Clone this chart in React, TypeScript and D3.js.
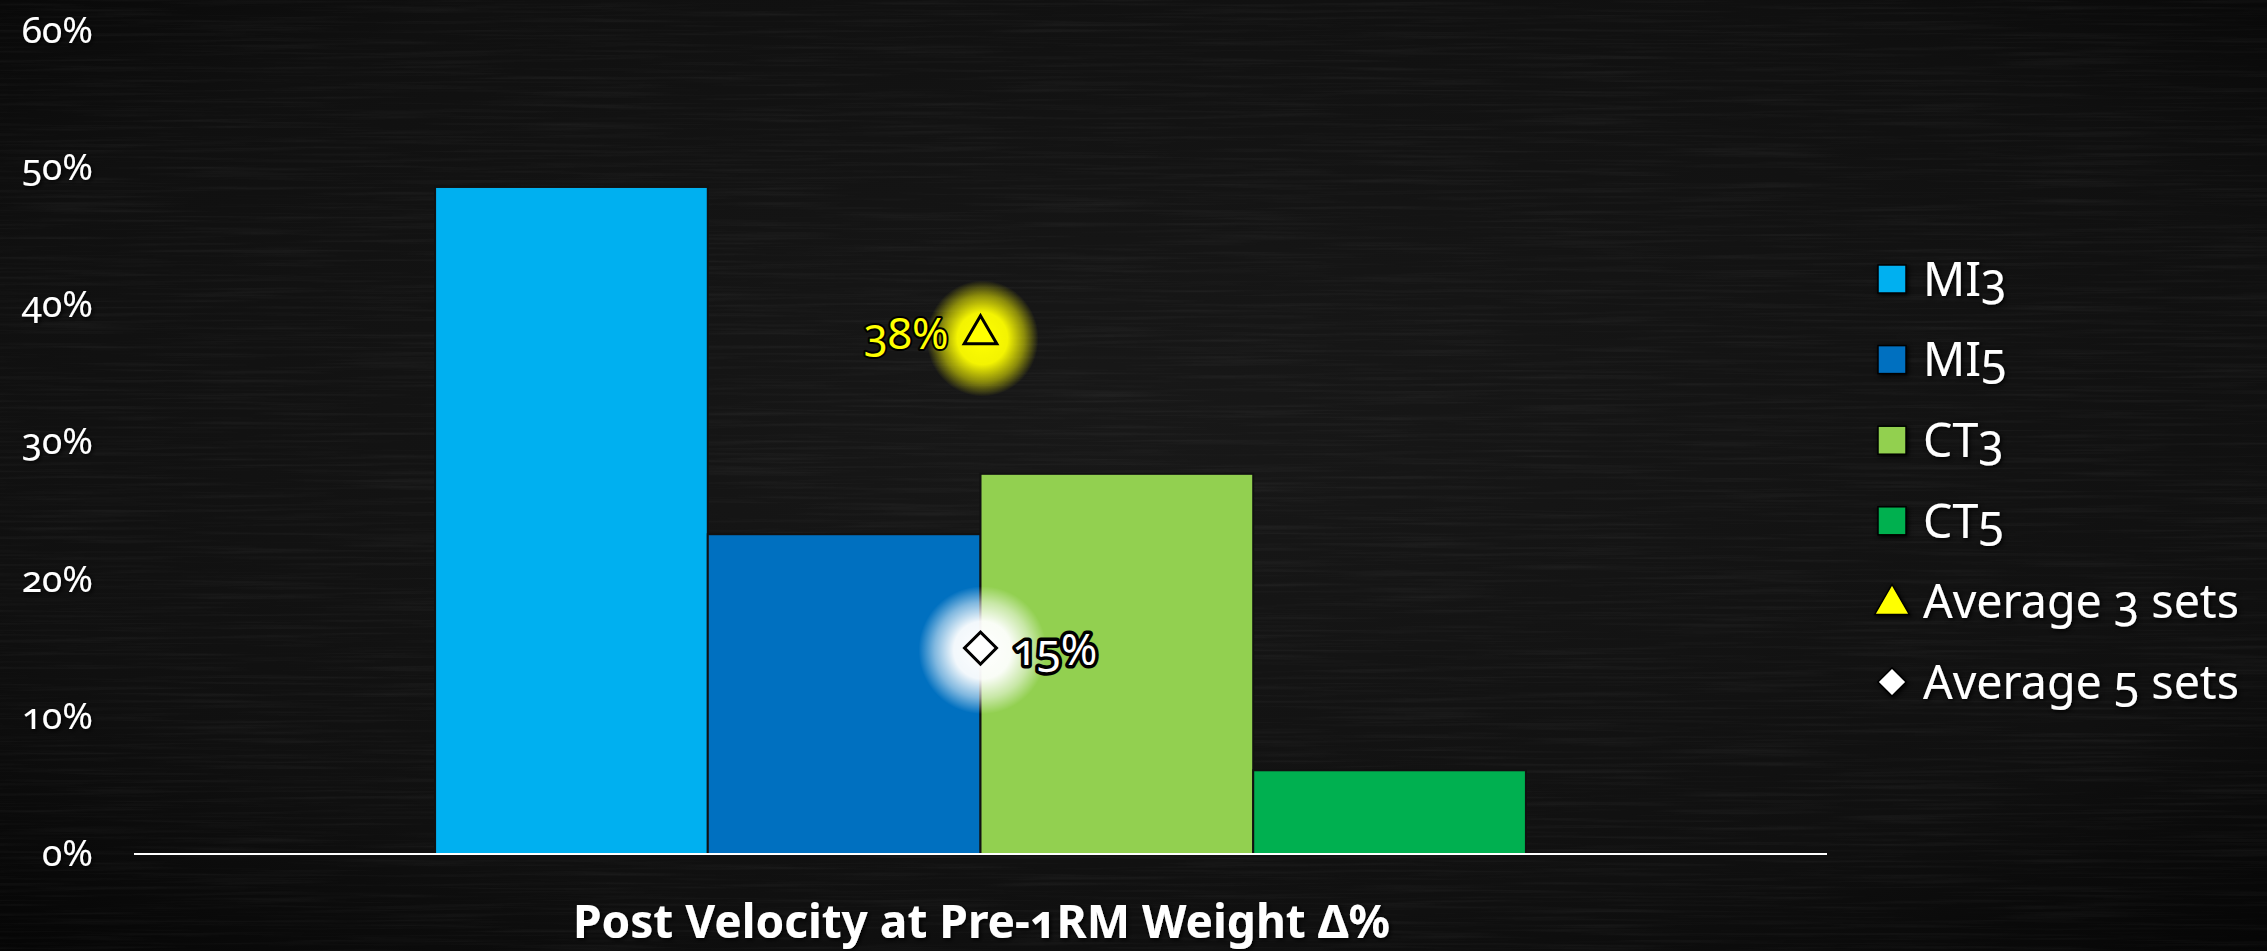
import React from "react";
import * as d3 from "d3";

const W = 2267;
const H = 951;

const categories = ["Post Velocity at Pre-1RM Weight Δ%"];
const seriesNames = ["MI3", "MI5", "CT3", "CT5"];
const seriesValues = [0.486, 0.233, 0.277, 0.061];
const seriesColors = ["#00B0F0", "#0070C0", "#92D050", "#00B050"];
const averageNames = ["Average 3 sets", "Average 5 sets"];
const averageValues = [0.38, 0.15];
const averageLabels = ["38%", "15%"];
const yTicks = [0, 0.1, 0.2, 0.3, 0.4, 0.5, 0.6];

const FONT = "'Noto Sans', 'Open Sans', sans-serif";

export default function App() {
  const margin = { top: 30.5, bottom: 97, left: 134, right: 440 };

  const y = d3.scaleLinear().domain([0, 0.6]).range([H - margin.bottom, margin.top]);
  const x0 = d3
    .scaleBand()
    .domain(categories)
    .range([margin.left, W - margin.right])
    .paddingInner(0)
    .paddingOuter(0.276);
  const x1 = d3.scaleBand().domain(seriesNames).range([0, x0.bandwidth()]).padding(0);
  const fmt = d3.format(".0%");

  const cat = categories[0];
  const cx = (x0(cat) ?? 0) + x0.bandwidth() / 2;

  const tri = d3.symbol(d3.symbolTriangle, 460)();
  const dia = d3.symbol(d3.symbolSquare, 512)();
  const triSmall = d3.symbol(d3.symbolTriangle, 520)();
  const diaSmall = d3.symbol(d3.symbolSquare, 400)();

  const legendX = 1878;
  const legendY0 = 279;
  const legendStep = 80.6;
  const legendItems = [
    ...seriesNames.map((n, i) => ({ name: n, kind: "bar", color: seriesColors[i] })),
    { name: averageNames[0], kind: "tri", color: "#FFFF00" },
    { name: averageNames[1], kind: "dia", color: "#FFFFFF" },
  ];

  const glowColors = ["#FFFF00", "#FFFFFF"];

  return (
    <svg
      width={W}
      height={H}
      style={{ position: "absolute", left: 0, top: 0, display: "block" }}
      fontFamily={FONT}
    >
      <defs>
        <radialGradient id="bg" cx="50%" cy="45%" r="75%">
          <stop offset="0%" stopColor="#181818" />
          <stop offset="70%" stopColor="#101010" />
          <stop offset="100%" stopColor="#050505" />
        </radialGradient>
        <filter id="chalk" x="0" y="0" width="100%" height="100%">
          <feTurbulence type="fractalNoise" baseFrequency="0.006 0.3" numOctaves="3" seed="7" />
          <feColorMatrix
            type="matrix"
            values="0 0 0 0 1  0 0 0 0 1  0 0 0 0 1  0 0 0 0.5 -0.22"
          />
        </filter>
        <filter id="shadow" x="-20%" y="-40%" width="140%" height="180%">
          <feDropShadow dx="1.5" dy="1.5" stdDeviation="2" floodColor="#000" floodOpacity="1" />
        </filter>
        {glowColors.map((c, i) => (
          <radialGradient key={i} id={`glow${i}`}>
            <stop offset="0%" stopColor={c} stopOpacity={1} />
            <stop offset="45%" stopColor={c} stopOpacity={0.95} />
            <stop offset="75%" stopColor={c} stopOpacity={0.5} />
            <stop offset="100%" stopColor={c} stopOpacity={0} />
          </radialGradient>
        ))}
      </defs>

      <rect width={W} height={H} fill="url(#bg)" />
      <rect width={W} height={H} filter="url(#chalk)" opacity={0.18} />

      {/* y axis labels */}
      <g
        fill="#fff"
        fontSize={37}
        textAnchor="end"
        style={{ fontVariantNumeric: "oldstyle-nums" }}
        filter="url(#shadow)"
      >
        {yTicks.map((t) => (
          <text key={t} x={93} y={y(t)} dy="0.33em">
            {fmt(t)}
          </text>
        ))}
      </g>

      {/* bars */}
      <g>
        {seriesValues.map((v, i) => (
          <rect
            key={seriesNames[i]}
            x={(x0(cat) ?? 0) + (x1(seriesNames[i]) ?? 0)}
            y={y(v)}
            width={x1.bandwidth()}
            height={y(0) - y(v)}
            fill={seriesColors[i]}
            stroke="#111"
            strokeWidth={2}
          />
        ))}
      </g>

      {/* x axis */}
      <line
        x1={margin.left}
        x2={W - margin.right}
        y1={y(0)}
        y2={y(0)}
        stroke="#fff"
        strokeWidth={2}
      />

      {/* averages */}
      {averageValues.map((v, i) => (
        <g key={averageNames[i]}>
          <ellipse
            cx={cx + 2}
            cy={y(v) + (i === 0 ? 6 : 2)}
            rx={i === 0 ? 56 : 64}
            ry={i === 0 ? 58 : 64}
            fill={`url(#glow${i})`}
          />
          <path
            d={i === 0 ? tri! : dia!}
            transform={`translate(${cx},${y(v) + (i === 0 ? 2 : 0)}) rotate(${i === 0 ? 0 : 45})`}
            fill={glowColors[i]}
            stroke="#000"
            strokeWidth={3}
          />
          <text
            x={i === 0 ? cx - 32 : cx + 32}
            y={y(v)}
            dy="0.38em"
            textAnchor={i === 0 ? "end" : "start"}
            fontSize={44}
            fill={glowColors[i]}
            stroke="#000"
            strokeWidth={i === 0 ? 4 : 7}
            strokeLinejoin="round"
            paintOrder="stroke"
            style={{ fontVariantNumeric: "oldstyle-nums" }}
          >
            {averageLabels[i]}
          </text>
        </g>
      ))}

      {/* category label */}
      <text
        x={cx + 1}
        y={938}
        textAnchor="middle"
        fontSize={46}
        fontWeight={700}
        fill="#fff"
        style={{ fontVariantNumeric: "oldstyle-nums" }}
        filter="url(#shadow)"
      >
        {cat}
      </text>

      {/* legend */}
      <g filter="url(#shadow)">
        {legendItems.map((it, i) => {
          const ly = legendY0 + i * legendStep;
          return (
            <g key={it.name} transform={`translate(${legendX},${ly})`}>
              {it.kind === "bar" && (
                <rect x={0} y={-14} width={28} height={28} fill={it.color} stroke="#000" strokeWidth={1.5} />
              )}
              {it.kind === "tri" && (
                <path d={triSmall!} transform="translate(14,3)" fill={it.color} stroke="#000" strokeWidth={1.5} />
              )}
              {it.kind === "dia" && (
                <path d={diaSmall!} transform="translate(14,0) rotate(45)" fill={it.color} stroke="#000" strokeWidth={1.5} />
              )}
              <text
                x={45}
                y={0}
                dy="0.36em"
                fontSize={46.5}
                fill="#fff"
                style={{ fontVariantNumeric: "oldstyle-nums" }}
              >
                {it.name}
              </text>
            </g>
          );
        })}
      </g>
    </svg>
  );
}
